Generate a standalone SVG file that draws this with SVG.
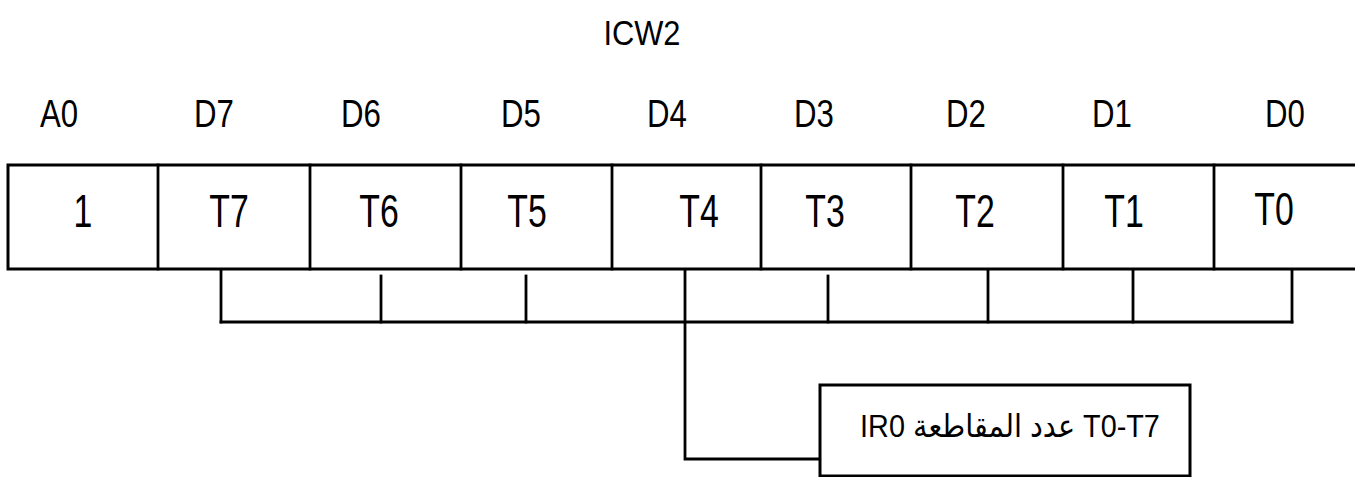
<svg xmlns="http://www.w3.org/2000/svg" width="1355" height="477" viewBox="0 0 1355 477">
<style>
.ln{stroke:#000;stroke-width:2.8;fill:none;stroke-linecap:square}
.bx{stroke:#000;stroke-width:3;fill:#fff}
.t{font-family:"Liberation Sans",Arial,sans-serif;fill:#000;text-anchor:middle}
.h{font-size:39px}
.c{font-size:47px}
.ti{font-size:35px}
.lb{font-family:"Liberation Sans","DejaVu Sans",sans-serif;font-size:32px;fill:#000;text-anchor:middle}
</style>
<rect width="1355" height="477" fill="#fff"/>
<g id="title"><text class="t ti" transform="translate(642,45) scale(0.88,1)">ICW2</text></g>
<g id="header">
<text class="t h" transform="translate(59,127) scale(0.8,1)">A0</text>
<text class="t h" transform="translate(214,127) scale(0.8,1)">D7</text>
<text class="t h" transform="translate(361,127) scale(0.8,1)">D6</text>
<text class="t h" transform="translate(521,127) scale(0.8,1)">D5</text>
<text class="t h" transform="translate(667,127) scale(0.8,1)">D4</text>
<text class="t h" transform="translate(814,127) scale(0.8,1)">D3</text>
<text class="t h" transform="translate(966,127) scale(0.8,1)">D2</text>
<text class="t h" transform="translate(1112,127) scale(0.8,1)">D1</text>
<text class="t h" transform="translate(1285,127) scale(0.8,1)">D0</text>
</g>
<g id="register">
<rect class="bx" x="8" y="165" width="1360" height="104"/>
<g class="ln">
<line x1="158" y1="165" x2="158" y2="269"/>
<line x1="310" y1="165" x2="310" y2="269"/>
<line x1="461" y1="165" x2="461" y2="269"/>
<line x1="612" y1="165" x2="612" y2="269"/>
<line x1="761" y1="165" x2="761" y2="269"/>
<line x1="911" y1="165" x2="911" y2="269"/>
<line x1="1063" y1="165" x2="1063" y2="269"/>
<line x1="1214" y1="165" x2="1214" y2="269"/>
</g>
</g>
<g id="bits">
<text class="t c" transform="translate(83,227) scale(0.72,1)">1</text>
<text class="t c" transform="translate(229,227) scale(0.72,1)">T7</text>
<text class="t c" transform="translate(379,227) scale(0.72,1)">T6</text>
<text class="t c" transform="translate(527,227) scale(0.72,1)">T5</text>
<text class="t c" transform="translate(699,227) scale(0.72,1)">T4</text>
<text class="t c" transform="translate(825,227) scale(0.72,1)">T3</text>
<text class="t c" transform="translate(975,227) scale(0.72,1)">T2</text>
<text class="t c" transform="translate(1124,227) scale(0.72,1)">T1</text>
<text class="t c" transform="translate(1274,225) scale(0.72,1)">T0</text>
</g>
<g id="connectors" class="ln">
<line x1="221" y1="270" x2="221" y2="322"/>
<line x1="381" y1="276" x2="381" y2="322"/>
<line x1="526" y1="276" x2="526" y2="322"/>
<line x1="828" y1="276" x2="828" y2="322"/>
<line x1="988" y1="270" x2="988" y2="322"/>
<line x1="1133" y1="270" x2="1133" y2="322"/>
<line x1="1292" y1="270" x2="1292" y2="322"/>
<line x1="221" y1="322" x2="1292" y2="322"/>
<polyline points="685,270 685,459 820,459"/>
</g>
<g id="label">
<rect class="bx" x="820" y="385" width="370" height="91"/>
<text class="lb" transform="translate(1010,437) scale(0.9,1)">IR0 عدد المقاطعة T0-T7</text>
</g>
</svg>
